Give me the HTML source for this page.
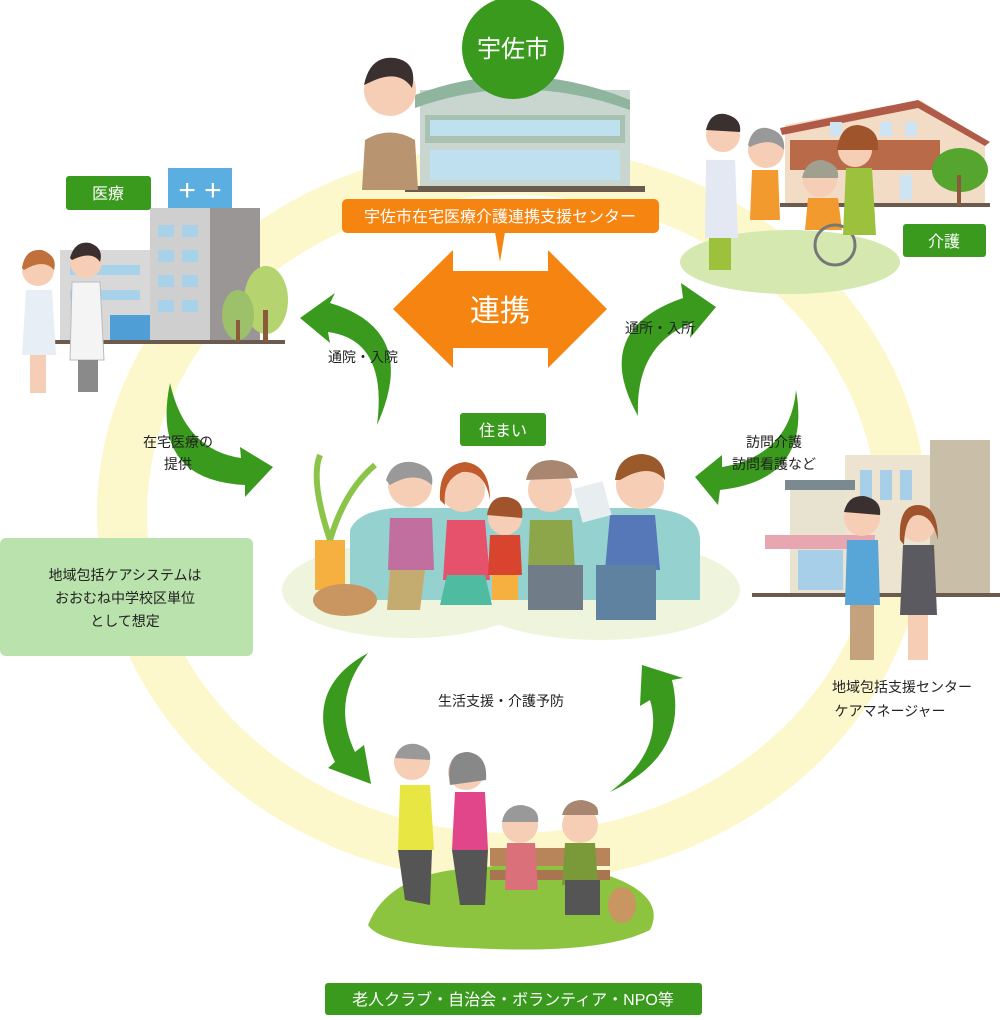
<!DOCTYPE html>
<html><head><meta charset="utf-8"><style>
body{margin:0;width:1000px;height:1015px;overflow:hidden;background:#fff;font-family:"Liberation Sans","Noto Sans CJK JP",sans-serif}
</style></head><body>
<svg width="1000" height="1015" viewBox="0 0 1000 1015" xmlns="http://www.w3.org/2000/svg" font-family="Liberation Sans, Noto Sans CJK JP, sans-serif">
<!-- ring -->
<ellipse cx="512" cy="514" rx="390" ry="344" fill="none" stroke="#fdf8cc" stroke-width="50"/>

<!-- top building -->
<rect x="420" y="90" width="210" height="100" fill="#c9d6cf"/>
<path d="M415,95 Q520,55 630,100 L630,110 Q520,70 415,108Z" fill="#8fb59e"/>
<rect x="425" y="115" width="200" height="28" fill="#a8c1b0"/>
<g fill="#bfe0ef"><rect x="430" y="120" width="190" height="16"/><rect x="430" y="150" width="190" height="30"/></g>
<rect x="405" y="186" width="240" height="6" fill="#6b5a4e"/>
<!-- man top -->
<circle cx="390" cy="90" r="26" fill="#f6cdb5"/><path d="M364,85 Q370,55 395,58 Q418,62 412,88 Q400,70 375,80Z" fill="#3b3030"/>
<path d="M362,190 L365,140 Q390,125 415,140 L418,190Z" fill="#b89470"/>
<!-- 宇佐市 -->
<circle cx="513" cy="48" r="51" fill="#3a9a1e"/>
<text x="513" y="57" font-size="24" fill="#fff" text-anchor="middle">宇佐市</text>
<!-- orange label -->
<rect x="342" y="199" width="317" height="34" rx="5" fill="#f58410"/>
<path d="M495,232 L505,232 L500,262Z" fill="#f58410"/>
<text x="500" y="222" font-size="16" fill="#fff" text-anchor="middle">宇佐市在宅医療介護連携支援センター</text>
<!-- double arrow -->
<path d="M393,309 L453,250 L453,271 L548,271 L548,250 L607,309 L548,368 L548,348 L453,348 L453,368Z" fill="#f58410"/>
<text x="500" y="321" font-size="30" fill="#fff" text-anchor="middle">連携</text>

<!-- hospital -->
<rect x="60" y="250" width="100" height="90" fill="#d8d8d8"/>
<rect x="150" y="208" width="110" height="135" fill="#cfcfcf"/>
<rect x="210" y="208" width="50" height="135" fill="#9a9696"/>
<rect x="168" y="168" width="64" height="40" fill="#5aaee0"/>
<text x="200" y="200" font-size="30" fill="#fff" text-anchor="middle">+ +</text>
<g fill="#a8d1ea"><rect x="158" y="225" width="16" height="12"/><rect x="182" y="225" width="16" height="12"/><rect x="158" y="250" width="16" height="12"/><rect x="182" y="250" width="16" height="12"/><rect x="158" y="275" width="16" height="12"/><rect x="182" y="275" width="16" height="12"/><rect x="158" y="300" width="16" height="12"/><rect x="182" y="300" width="16" height="12"/><rect x="70" y="265" width="70" height="10"/><rect x="70" y="290" width="70" height="10"/></g>
<rect x="110" y="315" width="40" height="25" fill="#4f9fd6"/>
<rect x="40" y="340" width="245" height="4" fill="#6b5a4e"/>
<ellipse cx="266" cy="300" rx="22" ry="34" fill="#b5d36e"/><ellipse cx="238" cy="315" rx="16" ry="25" fill="#9cc16a"/>
<rect x="263" y="310" width="5" height="32" fill="#8a5a3a"/><rect x="236" y="320" width="4" height="22" fill="#8a5a3a"/>
<!-- nurse & doctor -->
<circle cx="38" cy="270" r="16" fill="#f6cdb5"/><path d="M22,268 Q25,248 42,250 Q58,256 54,270 Q44,258 24,270Z" fill="#c0703a"/>
<path d="M22,355 L26,290 L52,290 L56,355Z" fill="#e8eef5"/><rect x="30" y="355" width="16" height="38" fill="#f6cdb5"/>
<circle cx="86" cy="262" r="16" fill="#f6cdb5"/><path d="M70,258 Q75,240 90,243 Q104,248 100,262 Q92,250 72,260Z" fill="#3b3030"/>
<path d="M70,360 L72,282 L100,282 L104,360Z" fill="#f4f4f4" stroke="#bbb"/><rect x="78" y="360" width="20" height="32" fill="#8a8a8a"/>
<!-- 医療 -->
<rect x="66" y="176" width="85" height="34" rx="3" fill="#3a9a1e"/>
<text x="108" y="199" font-size="16" fill="#fff" text-anchor="middle">医療</text>

<!-- care facility top right -->
<ellipse cx="790" cy="262" rx="110" ry="32" fill="#d5e8b0"/>
<path d="M785,205 L785,125 L920,100 L985,140 L985,205Z" fill="#f2dcc6"/>
<path d="M780,128 L918,100 L990,142 L985,146 L918,108 L782,135Z" fill="#b05a48"/>
<rect x="790" y="140" width="150" height="30" fill="#b96a48"/>
<g fill="#cfe4f2"><rect x="830" y="122" width="12" height="14"/><rect x="880" y="122" width="12" height="14"/><rect x="905" y="122" width="12" height="14"/><rect x="900" y="175" width="12" height="25"/></g>
<rect x="780" y="203" width="210" height="4" fill="#6b5a4e"/>
<ellipse cx="960" cy="170" rx="28" ry="22" fill="#55a52e"/><rect x="957" y="175" width="4" height="30" fill="#8a5a3a"/>
<circle cx="723" cy="135" r="17" fill="#f6cdb5"/><path d="M706,130 Q710,112 725,114 Q742,118 740,132Z" fill="#3b3030"/>
<path d="M705,238 L706,160 L735,160 L738,238Z" fill="#e4e8f2"/><rect x="709" y="238" width="22" height="32" fill="#9cc23d"/>
<circle cx="766" cy="150" r="18" fill="#f6cdb5"/><path d="M748,145 Q752,126 767,128 Q786,132 784,150 Q772,136 750,147Z" fill="#999"/>
<path d="M750,220 L752,170 L778,170 L780,220Z" fill="#f39a2e"/>
<circle cx="820" cy="180" r="17" fill="#f6cdb5"/><path d="M802,178 Q806,160 822,160 Q840,164 838,178Z" fill="#a0a090"/>
<path d="M805,230 L808,198 L838,198 L842,230Z" fill="#f39a2e"/>
<circle cx="835" cy="245" r="20" fill="none" stroke="#777" stroke-width="3"/>
<circle cx="855" cy="150" r="17" fill="#f6cdb5"/><path d="M837,150 Q840,125 858,125 Q880,128 878,150Z" fill="#a0542c"/>
<path d="M843,235 L846,168 L872,168 L876,235Z" fill="#9cc23d"/>
<rect x="903" y="224" width="83" height="33" rx="3" fill="#3a9a1e"/>
<text x="944" y="247" font-size="16" fill="#fff" text-anchor="middle">介護</text>

<!-- green arrows -->
<g fill="#3a9a1e">
<path d="M377,425 Q420,330 330,303 L335,293 L300,318 L330,343 L328,332 Q388,340 377,425Z"/>
<path d="M170,383 Q150,480 245,485 L245,497 L273,467 L240,447 L241,458 Q185,450 170,383Z"/>
<path d="M638,416 Q590,330 683,298 L681,283 L716,307 L690,338 L692,323 Q635,345 638,416Z"/>
<path d="M796,390 Q812,480 720,490 L718,505 L695,477 L722,455 L722,467 Q790,455 796,390Z"/>
<path d="M368,653 Q300,690 335,762 L328,768 L371,784 L364,745 L355,752 Q330,700 368,653Z"/>
<path d="M610,792 Q690,755 672,680 L683,678 L642,665 L640,706 L650,700 Q665,750 610,792Z"/>
</g>
<g font-size="14" fill="#222" text-anchor="middle">
<text x="363" y="362">通院・入院</text>
<text x="660" y="333">通所・入所</text>
<text x="178" y="447">在宅医療の</text><text x="178" y="469">提供</text>
<text x="774" y="447">訪問介護</text><text x="774" y="469">訪問看護など</text>
<text x="501" y="706">生活支援・介護予防</text>
<text x="902" y="692">地域包括支援センター</text><text x="890" y="716">ケアマネージャー</text>
</g>

<!-- 住まい -->
<rect x="460" y="413" width="86" height="33" rx="3" fill="#3a9a1e"/>
<text x="503" y="436" font-size="16" fill="#fff" text-anchor="middle">住まい</text>
<!-- family on sofa -->
<ellipse cx="410" cy="590" rx="128" ry="48" fill="#eef5dc"/><ellipse cx="600" cy="590" rx="140" ry="50" fill="#eef5dc"/>
<path d="M350,530 Q360,505 420,508 L650,508 Q700,512 700,540 L700,600 L350,600Z" fill="#95d1cf"/>
<rect x="315" y="540" width="30" height="50" fill="#f5b040"/>
<path d="M330,540 Q310,480 320,455 M330,540 Q345,490 375,465" stroke="#8cc44a" stroke-width="6" fill="none"/>
<ellipse cx="345" cy="600" rx="32" ry="16" fill="#c99560"/>
<circle cx="410" cy="485" r="22" fill="#f6cdb5"/><path d="M386,480 Q392,460 412,462 Q435,466 432,485 Q415,470 390,485Z" fill="#999"/>
<path d="M388,570 L390,518 L432,518 L434,570Z" fill="#c06f9e"/><path d="M387,610 L390,570 L425,570 L420,610Z" fill="#c4ac70"/>
<circle cx="463" cy="490" r="22" fill="#f6cdb5"/><path d="M440,500 Q438,465 465,462 Q490,465 490,500 Q485,470 462,472 Q442,480 445,505Z" fill="#c05c2c"/>
<path d="M443,580 L447,520 L485,520 L490,580Z" fill="#e6516c"/><path d="M440,605 L447,575 L485,575 L492,605Z" fill="#4fbba0"/>
<circle cx="505" cy="518" r="17" fill="#f6cdb5"/><path d="M487,515 Q490,495 507,497 Q525,500 522,518Z" fill="#a0542c"/>
<path d="M488,575 L490,535 L520,535 L522,575Z" fill="#d9442f"/><rect x="492" y="575" width="26" height="25" fill="#f5b040"/>
<circle cx="550" cy="490" r="22" fill="#f6cdb5"/><path d="M526,480 Q530,460 552,460 Q575,462 578,478Z" fill="#a88670"/>
<path d="M528,570 L530,520 L572,520 L575,570Z" fill="#8ea64a"/><rect x="528" y="565" width="55" height="45" fill="#707c88"/>
<circle cx="640" cy="485" r="24" fill="#f6cdb5"/><path d="M615,480 Q618,455 642,454 Q665,456 665,480 Q650,462 620,480Z" fill="#9a5a2c"/>
<path d="M605,570 L610,515 L655,515 L660,570Z" fill="#5678b8"/><rect x="596" y="565" width="60" height="55" fill="#5f82a0"/>
<rect x="577" y="485" width="30" height="35" fill="#e8edf0" transform="rotate(-15 590 500)"/>

<!-- regional center right -->
<rect x="790" y="485" width="60" height="110" fill="#e8e2d0"/>
<rect x="845" y="455" width="135" height="140" fill="#ece4d0"/>
<rect x="930" y="440" width="60" height="155" fill="#c9bfa8"/>
<rect x="785" y="480" width="70" height="10" fill="#7a8a90"/>
<rect x="765" y="535" width="110" height="14" fill="#e8a6b0"/>
<g fill="#a8cfe8"><rect x="860" y="470" width="12" height="30"/><rect x="880" y="470" width="12" height="30"/><rect x="900" y="470" width="12" height="30"/><rect x="798" y="550" width="45" height="40"/></g>
<rect x="752" y="593" width="248" height="4" fill="#6b5a4e"/>
<circle cx="862" cy="518" r="18" fill="#f6cdb5"/><path d="M844,512 Q848,495 864,496 Q882,500 880,515Z" fill="#3b3030"/>
<path d="M845,605 L847,540 L878,540 L880,605Z" fill="#58a6d8"/><rect x="850" y="605" width="24" height="55" fill="#c4a27e"/>
<circle cx="918" cy="525" r="17" fill="#f6cdb5"/><path d="M900,540 Q898,505 918,505 Q938,505 938,540 Q932,515 918,515 Q905,515 904,545Z" fill="#a0542c"/>
<path d="M900,615 L903,545 L934,545 L937,615Z" fill="#5a5a60"/><rect x="908" y="615" width="20" height="45" fill="#f6cdb5"/>

<!-- green box -->
<rect x="0" y="538" width="253" height="118" rx="6" fill="#b9e2ac"/>
<g font-size="14" fill="#222" text-anchor="middle"><text x="125" y="580">地域包括ケアシステムは</text><text x="125" y="603">おおむね中学校区単位</text><text x="125" y="626">として想定</text></g>

<!-- bottom scene -->
<path d="M368,925 Q390,870 480,868 Q560,855 620,880 Q665,900 650,930 Q600,955 470,948 Q380,945 368,925Z" fill="#8cc43f"/>
<rect x="490" y="848" width="120" height="18" fill="#b8855a"/><rect x="490" y="870" width="120" height="10" fill="#a87550"/>
<circle cx="412" cy="762" r="18" fill="#f6cdb5"/><path d="M395,758 Q400,742 416,744 Q432,748 430,760Z" fill="#999"/>
<path d="M398,850 L400,785 L430,785 L434,850Z" fill="#e8e642"/><path d="M398,850 L405,900 L430,905 L432,850Z" fill="#555"/>
<circle cx="466" cy="772" r="18" fill="#f6cdb5"/><path d="M450,785 Q445,752 468,752 Q488,755 486,780Z" fill="#888"/>
<path d="M452,850 L455,792 L485,792 L488,850Z" fill="#e2468a"/><path d="M452,850 L460,905 L485,905 L488,850Z" fill="#555"/>
<circle cx="520" cy="825" r="18" fill="#f6cdb5"/><path d="M502,822 Q505,805 522,805 Q540,808 538,822Z" fill="#999"/>
<path d="M505,890 L507,843 L535,843 L538,890Z" fill="#d9707a"/>
<circle cx="580" cy="825" r="18" fill="#f6cdb5"/><path d="M562,815 Q566,800 582,800 Q600,803 598,815Z" fill="#a88670"/>
<path d="M562,885 L565,843 L595,843 L598,885Z" fill="#7a9a3a"/><rect x="565" y="880" width="35" height="35" fill="#555"/>
<ellipse cx="622" cy="905" rx="14" ry="18" fill="#c99560"/>
<rect x="325" y="983" width="377" height="32" rx="3" fill="#3a9a1e"/>
<text x="513" y="1005" font-size="16" fill="#fff" text-anchor="middle">老人クラブ・自治会・ボランティア・NPO等</text>
</svg>
</body></html>
